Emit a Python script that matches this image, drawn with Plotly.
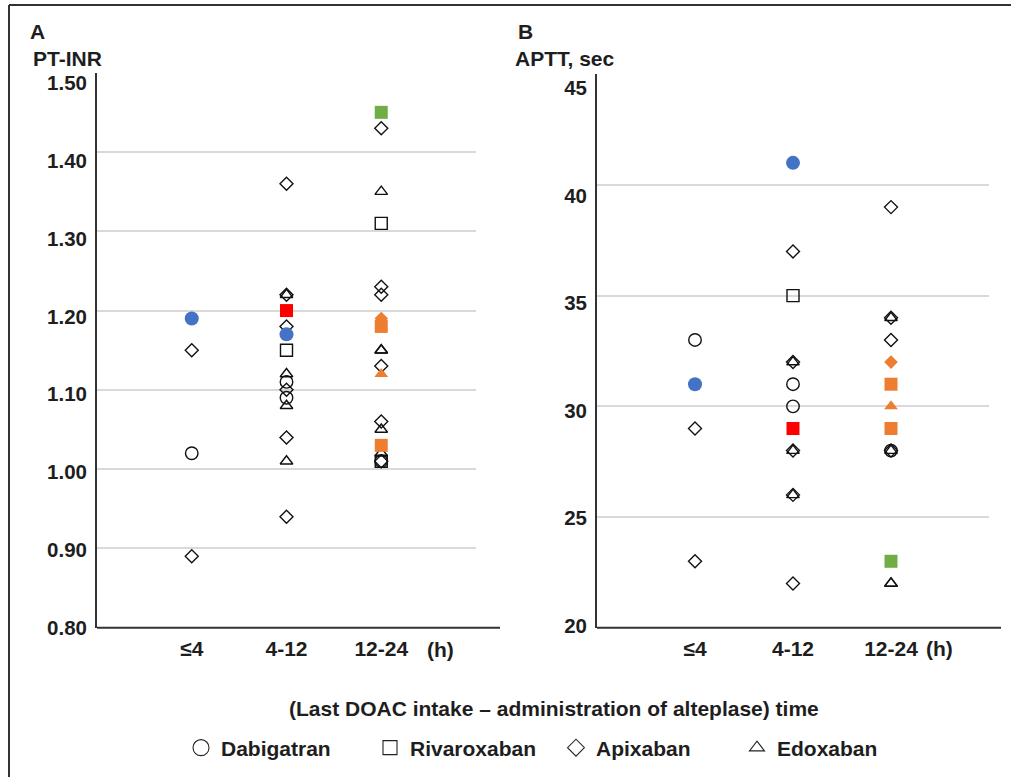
import plotly.graph_objects as go

W, H = 1011, 777


def px(x):
    return x / W


def py(y):
    return 1 - y / H


# ---------------- data ----------------
categories = ["≤4", "4-12", "12-24"]
drugs = ["Dabigatran", "Rivaroxaban", "Apixaban", "Edoxaban"]
open_symbols = ["circle-open", "square-open", "diamond-open", "triangle-up-open"]
fill_symbols = {"Dabigatran": "circle", "Rivaroxaban": "square",
                "Apixaban": "diamond", "Edoxaban": "triangle-up"}
hl_colors = {"blue": "#4472C4", "red": "#FF0000", "green": "#70AD47", "orange": "#ED7D31"}

# Panel A: PT-INR (values per category: ≤4, 4-12, 12-24)
inr_dabigatran = [[1.02], [1.11, 1.09], [1.01]]
inr_rivaroxaban = [[], [1.15], [1.31, 1.01]]
inr_apixaban = [[1.15, 0.89], [1.36, 1.22, 1.18, 1.10, 1.04, 0.94],
                [1.43, 1.23, 1.22, 1.13, 1.06, 1.01]]
inr_edoxaban = [[], [1.22, 1.12, 1.08, 1.01], [1.35, 1.15, 1.15, 1.05, 1.02]]

inr_hl_drug = ["Dabigatran", "Dabigatran", "Rivaroxaban", "Rivaroxaban",
               "Rivaroxaban", "Rivaroxaban", "Apixaban", "Edoxaban"]
inr_hl_cat = ["≤4", "4-12", "4-12", "12-24", "12-24", "12-24", "12-24", "12-24"]
inr_hl_value = [1.19, 1.17, 1.20, 1.45, 1.18, 1.03, 1.19, 1.12]
inr_hl_color = ["blue", "blue", "red", "green", "orange", "orange", "orange", "orange"]

# Panel B: APTT, sec
aptt_dabigatran = [[33], [31, 30], [28]]
aptt_rivaroxaban = [[], [35], []]
aptt_apixaban = [[29, 23], [37, 32, 28, 26, 22], [39, 34, 33, 28]]
aptt_edoxaban = [[], [32, 28, 26], [34, 28, 22, 22]]

aptt_hl_drug = ["Dabigatran", "Dabigatran", "Rivaroxaban", "Rivaroxaban",
                "Rivaroxaban", "Rivaroxaban", "Apixaban", "Edoxaban"]
aptt_hl_cat = ["≤4", "4-12", "4-12", "12-24", "12-24", "12-24", "12-24", "12-24"]
aptt_hl_value = [31, 41, 29, 23, 31, 29, 32, 30]
aptt_hl_color = ["blue", "blue", "red", "green", "orange", "orange", "orange", "orange"]

inr_ticks = [0.80, 0.90, 1.00, 1.10, 1.20, 1.30, 1.40, 1.50]
aptt_ticks = [20, 25, 30, 35, 40, 45]

# ---------------- styling ----------------
FONT = "Liberation Sans, Arial, sans-serif"
TXT = "#1e1e1e"
AX = "#333333"
GRID = "#d9d9d9"
bold21 = dict(family=FONT, size=21, color=TXT, weight="bold")
bold_ytick = dict(family=FONT, size=20.5, color=TXT, weight="bold")

open_size = {"Dabigatran": 12.5, "Rivaroxaban": 12, "Apixaban": 10, "Edoxaban": 11}
fill_size = {"Dabigatran": 14, "Rivaroxaban": 13, "Apixaban": 10.5, "Edoxaban": 12}
legend_size = {"Dabigatran": 16, "Rivaroxaban": 14, "Apixaban": 13, "Edoxaban": 13}

fig = go.Figure()


def flatten(per_cat):
    xs, ys = [], []
    for cat, vals in zip(categories, per_cat):
        for v in vals:
            xs.append(cat)
            ys.append(v)
    return xs, ys


# dummy traces to bind the tick-label axes (drawn first, underneath)
fig.add_trace(go.Scatter(x=[None], y=[None], xaxis="x", yaxis="y3",
                         showlegend=False, hoverinfo="skip"))
fig.add_trace(go.Scatter(x=[None], y=[None], xaxis="x2", yaxis="y4",
                         showlegend=False, hoverinfo="skip"))

panels = [
    ("x", "y", [inr_dabigatran, inr_rivaroxaban, inr_apixaban, inr_edoxaban],
     inr_hl_drug, inr_hl_cat, inr_hl_value, inr_hl_color),
    ("x2", "y2", [aptt_dabigatran, aptt_rivaroxaban, aptt_apixaban, aptt_edoxaban],
     aptt_hl_drug, aptt_hl_cat, aptt_hl_value, aptt_hl_color),
]

for xa, ya, series, hdrug, hcat, hval, hcol in panels:
    for drug, sym, per_cat in zip(drugs, open_symbols, series):
        xs, ys = flatten(per_cat)
        fig.add_trace(go.Scatter(
            x=xs, y=ys, mode="markers", name=drug, legendgroup=drug,
            showlegend=False, xaxis=xa, yaxis=ya,
            marker=dict(symbol=sym, size=open_size[drug], color="#111111",
                        opacity=1, line=dict(width=1.4, color="#111111")),
            cliponaxis=False,
        ))
    fig.add_trace(go.Scatter(
        x=hcat, y=hval, mode="markers", showlegend=False, xaxis=xa, yaxis=ya,
        marker=dict(symbol=[fill_symbols[d] for d in hdrug],
                    size=[fill_size[d] for d in hdrug], opacity=1,
                    color=[hl_colors[c] for c in hcol], line=dict(width=0)),
        cliponaxis=False,
    ))

# legend entries: one legend per drug so each sits where the reference puts it
legend_ids = ["legend", "legend2", "legend3", "legend4"]
legend_left = [181, 370, 556, 737]
for drug, sym, lid in zip(drugs, open_symbols, legend_ids):
    fig.add_trace(go.Scatter(
        x=[None], y=[None], mode="markers", name=drug, legend=lid,
        showlegend=True, xaxis="x", yaxis="y",
        marker=dict(symbol=sym, size=legend_size[drug], color="#222222",
                    opacity=1, line=dict(width=1.1, color="#222222")),
    ))

xcommon = dict(type="category", categoryorder="array", categoryarray=categories,
               range=[-1, 3], showgrid=False, showline=False, zeroline=False,
               ticks="", tickfont=bold21, ticklabelstandoff=6, fixedrange=True)
ycommon = dict(showgrid=True, gridcolor=GRID, gridwidth=1.5, showline=True,
               linecolor=AX, linewidth=2, showticklabels=False, zeroline=False,
               ticks="", fixedrange=True)
ylab = dict(anchor="free", side="left", showgrid=False, showline=False,
            zeroline=False, ticks="", tickfont=bold_ytick, ticklabelstandoff=10,
            fixedrange=True)

legend_layout = {}
for lid, lx in zip(legend_ids, legend_left):
    legend_layout[lid] = dict(orientation="h", x=px(lx), xanchor="left", y=py(748),
                              yanchor="middle", font=bold21,
                              bgcolor="rgba(0,0,0,0)", itemclick=False,
                              itemdoubleclick=False)

fig.update_layout(
    width=W, height=H,
    margin=dict(l=0, r=0, t=0, b=0, autoexpand=False),
    paper_bgcolor="white", plot_bgcolor="rgba(0,0,0,0)",
    font=dict(family=FONT, color=TXT),
    xaxis=dict(domain=[px(97), px(476)], anchor="y", **xcommon),
    yaxis=dict(domain=[py(627.7), py(72.7)], anchor="x", range=[0.8, 1.5],
               tickvals=inr_ticks, **ycommon),
    xaxis2=dict(domain=[px(597), px(989)], anchor="y2", **xcommon),
    yaxis2=dict(domain=[py(627.7), py(74.3)], anchor="x2", range=[20, 45],
                tickvals=aptt_ticks, **ycommon),
    yaxis3=dict(domain=[py(627.7), py(83)], range=[0.8, 1.5], position=px(97),
                tickvals=inr_ticks, tickformat=".2f", **ylab),
    yaxis4=dict(domain=[py(625.7), py(88)], range=[20, 45], position=px(597),
                tickvals=aptt_ticks, **ylab),
    showlegend=True,
    **legend_layout,
)

# axis lines along the bottom (extend past the gridlines)
fig.add_shape(type="line", xref="x domain", yref="y domain", x0=0, x1=(500 - 97) / 379,
              y0=0, y1=0, line=dict(color=AX, width=2))
fig.add_shape(type="line", xref="x2 domain", yref="y2 domain", x0=0, x1=(1001 - 597) / 392,
              y0=0, y1=0, line=dict(color=AX, width=2))

# outer frame (left and top edges visible)
fig.add_shape(type="line", xref="paper", yref="paper", x0=px(9), x1=px(9),
              y0=py(5), y1=-0.02, line=dict(color=AX, width=2))
fig.add_shape(type="line", xref="paper", yref="paper", x0=px(9), x1=1.02,
              y0=py(5), y1=py(5), line=dict(color=AX, width=2))

ann = [
    ("A", 28, 32), ("PT-INR", 31, 58), ("B", 516, 32), ("APTT, sec", 513, 58),
    ("(h)", 425, 649), ("(h)", 924, 648),
    ("(Last DOAC intake – administration of alteplase) time", 287, 708),
]
for text, ax_, ay_ in ann:
    fig.add_annotation(text=text, xref="paper", yref="paper", x=px(ax_), y=py(ay_),
                       xanchor="left", yanchor="middle", showarrow=False,
                       font=bold21)

fig.write_html("out.html", config={"displayModeBar": False},
               post_script="document.body.style.margin='0';document.body.style.padding='0';")
